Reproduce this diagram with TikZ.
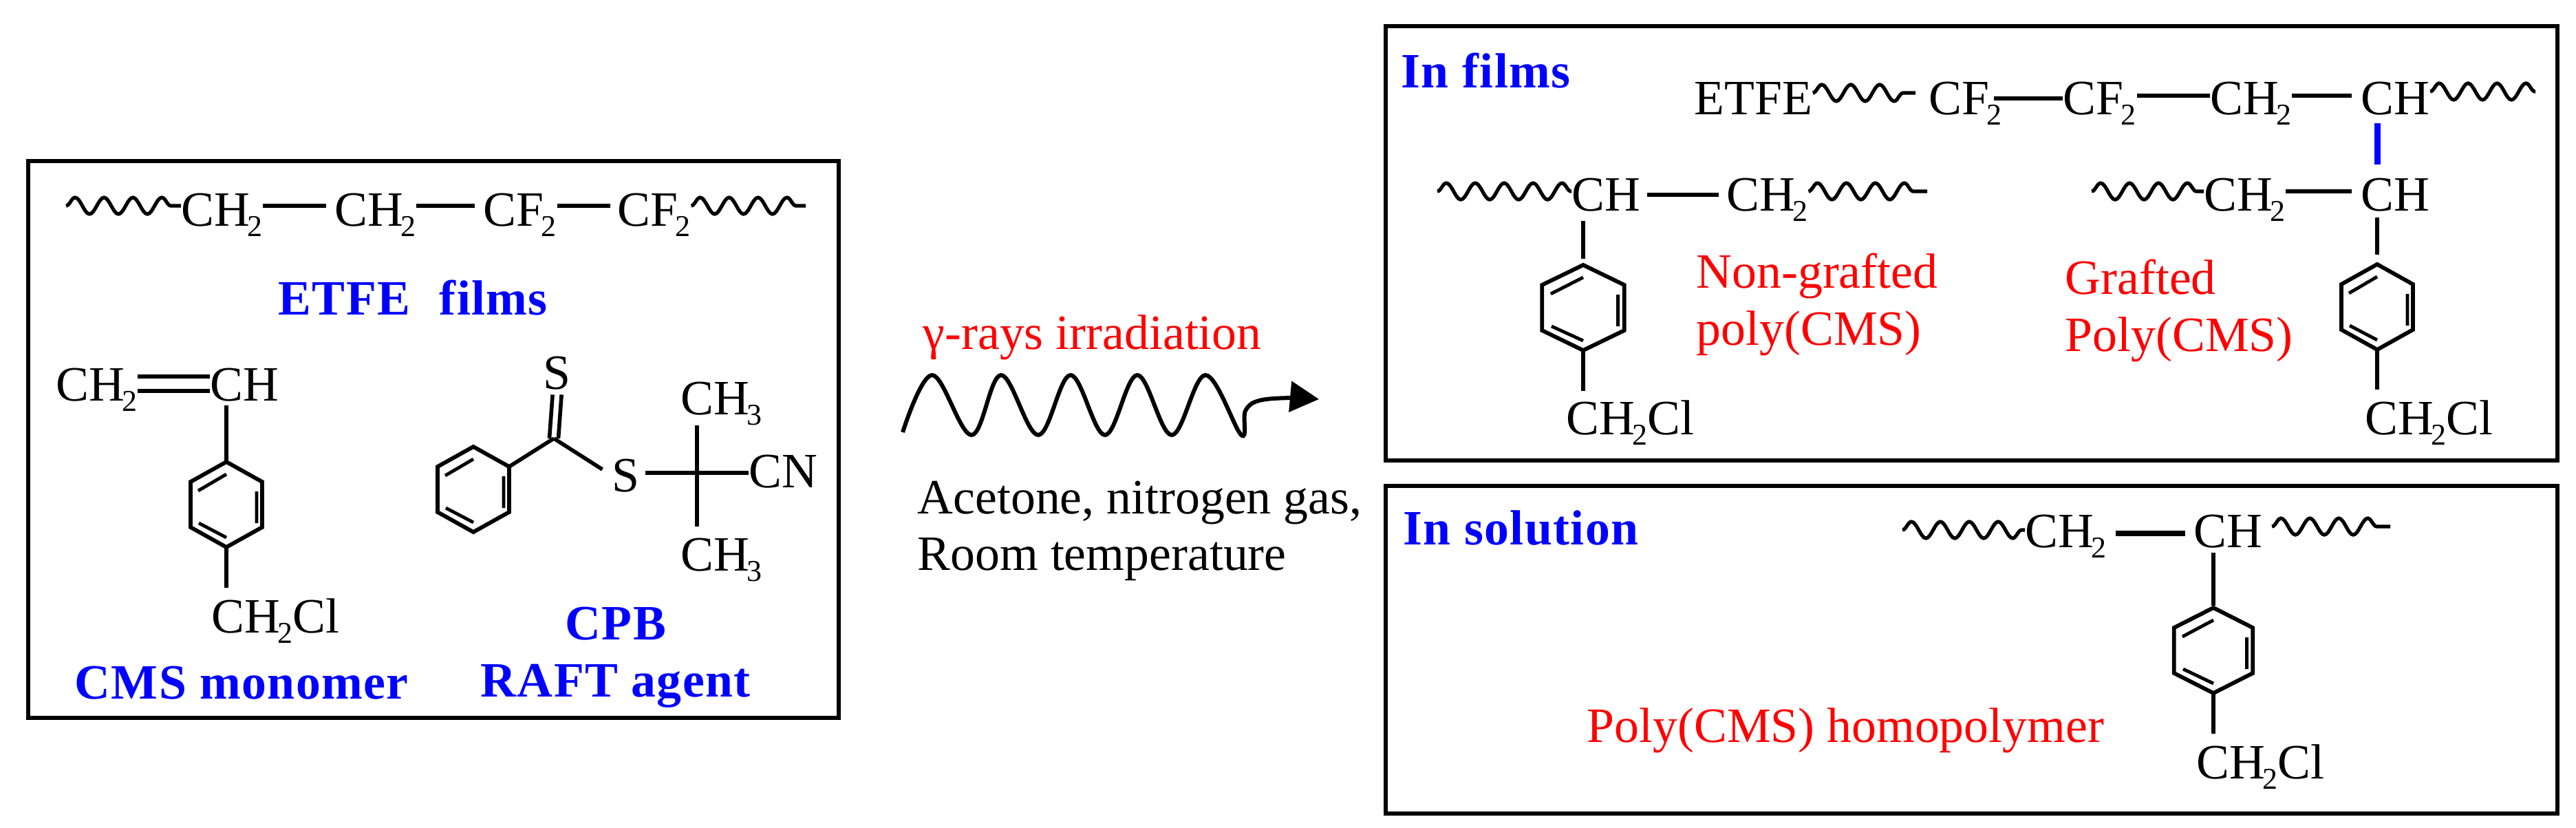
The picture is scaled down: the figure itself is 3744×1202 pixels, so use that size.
\documentclass[tikz,border=0pt]{standalone}
\usepackage{fontspec}
\setmainfont{Liberation Serif}
\newfontfamily\labelfont[LetterSpace=2]{Liberation Serif}
\usetikzlibrary{arrows.meta, decorations.pathmorphing}
\definecolor{labelblue}{RGB}{0, 0, 255}
\definecolor{labelred}{RGB}{255, 0, 0}
\newcommand{\subnum}[1]{\kern-0.05em\raisebox{-0.21em}{\fontsize{12.5}{13}\selectfont #1}}
\tikzset{
  chem/.style={anchor=base west, inner sep=0pt, font=\fontsize{20.4}{24}\selectfont},
  bluelabel/.style={anchor=base west, inner sep=0pt, text=labelblue, font=\fontsize{20.4}{24}\selectfont\labelfont\bfseries},
  redlabel/.style={chem, text=labelred},
  frame/.style={draw, line width=0.06cm},
  bond/.style={line width=0.056cm},
  wavy/.style={line width=0.052cm, decorate, decoration={snake, segment length=0.42cm, amplitude=0.12cm}},
  ring/.pic={
    \draw[line width=0.058cm, line join=miter] (0,-62) -- (52,-33) -- (52,33) -- (0,62) -- (-52,33) -- (-52,-33) -- cycle;
    \draw[line width=0.048cm] (-41,-20) -- (0,-44) (44,-19) -- (44,27) (-40,27) -- (0,48);
    \coordinate (-top) at (0,-62);
    \coordinate (-bot) at (0,62);
    \coordinate (-ur) at (52,-33);
  }
}

\begin{document}
\begin{tikzpicture}[x=0.01cm, y=-0.01cm]
  \useasboundingbox (0,0) rectangle (3744,1202);

  % Reactants
  \node[frame, minimum width=11.77cm, minimum height=8.09cm, anchor=north west] (boxreact) at (38,231) {};
  \coordinate (wavea) at (96,299);
  \coordinate (waveb) at (1171,299);
  \node[chem] (etfea) at (263,328) {CH\subnum{2}};
  \node[chem] (etfeb) at (486,328) {CH\subnum{2}};
  \node[chem] (etfec) at (702,328) {CF\subnum{2}};
  \node[chem] (etfed) at (897,328) {CF\subnum{2}};
  \draw[wavy] (wavea) -- ([yshift=0.29cm]etfea.base west);
  \draw[bond, shorten >=0.12cm] ([yshift=0.29cm]etfea.base east) -- ([yshift=0.29cm]etfeb.base west);
  \draw[bond, shorten >=0.12cm] ([yshift=0.29cm]etfeb.base east) -- ([yshift=0.29cm]etfec.base west);
  \draw[bond, shorten >=0.1cm] ([yshift=0.29cm]etfec.base east) -- ([yshift=0.29cm]etfed.base west);
  \draw[wavy] ([yshift=0.29cm]etfed.base east) -- (waveb);
  \node[bluelabel] (etfelabel) at (404,457) {ETFE\hspace{0.32em} films};

  % CMS monomer
  \node[chem] (vinyl) at (81,582) {CH\subnum{2}};
  \node[chem] (vinch) at (305,582) {CH};
  \pic (rcms) at (329,733) {ring};
  \node[chem] (cmscl) at (307,919) {CH\subnum{2}Cl};
  \draw[bond] ([yshift=0.35cm]vinyl.base east) -- ([yshift=0.35cm]vinch.base west);
  \draw[bond] ([yshift=0.14cm]vinyl.base east) -- ([yshift=0.14cm]vinch.base west);
  \draw[bond, shorten <=0.06cm] (rcms-top |- vinch.south) -- (rcms-top);
  \draw[bond, shorten >=0.15cm] (rcms-bot) -- (rcms-bot |- cmscl.north);
  \node[bluelabel] (cmslabel) at (108,1015) {CMS monomer};

  % CPB
  \pic (rcpb) at (688,711) {ring};
  \coordinate (cthio) at (805,637);
  \coordinate (cquat) at (1013,687);
  \node[chem] (sthio) at (789,565) {S};
  \node[chem] (slink) at (889,714) {S};
  \node[chem] (cpba) at (989,602) {CH\subnum{3}};
  \node[chem] (cpbb) at (989,829) {CH\subnum{3}};
  \node[chem] (cpbn) at (1088,708) {CN};
  \draw[bond] (rcpb-ur) -- (cthio);
  \draw[bond, shorten >=0.16cm] (cthio) -- (slink.north west |- slink.west);
  \draw[bond] ([xshift=-0.065cm]cthio) -- ([xshift=-0.065cm, yshift=-0.07cm]sthio.south);
  \draw[bond] ([xshift=0.065cm]cthio) -- ([xshift=0.065cm, yshift=-0.07cm]sthio.south);
  \draw[bond, shorten <=0.08cm] (slink.east |- cquat) -- (cpbn.west |- cquat);
  \draw[bond, shorten >=0.16cm] (cquat |- cpba.south) -- (cquat |- cpbb.north);
  \node[bluelabel] (cpblabel) at (821,929) {CPB};
  \node[bluelabel] (raftlabel) at (698,1012) {RAFT agent};

  % Conditions
  \node[redlabel] (gamma) at (1341,507) {γ-rays irradiation};
  \coordinate (raystart) at (1312,628);
  \coordinate (rayend) at (1917,580);
  \draw[line width=0.06cm, -{Triangle[length=0.42cm, width=0.44cm]}] plot[smooth, tension=0.6] coordinates {(raystart) (1355,545) (1412,632) (1455,545) (1509,632) (1556,545) (1606,632) (1653,545) (1703,632) (1752,545) (1804,632) (1810,597) (1830,582) (1877,578) (rayend)};
  \node[chem] (acetone) at (1333,746) {Acetone, nitrogen gas,};
  \node[chem] (roomtemp) at (1333,828) {Room temperature};

  % In films
  \node[frame, minimum width=17.02cm, minimum height=6.31cm, anchor=north west] (boxfilms) at (2011,35) {};
  \node[bluelabel] (filmslabel) at (2036,127) {In films};
  \node[chem] (graftetfe) at (2462,166) {ETFE};
  \node[chem] (grafta) at (2803,166) {CF\subnum{2}};
  \node[chem] (graftb) at (2998,166) {CF\subnum{2}};
  \node[chem] (graftc) at (3212,166) {CH\subnum{2}};
  \node[chem] (graftd) at (3431,166) {CH};
  \coordinate (wavec) at (3685,133);
  \draw[wavy, shorten >=0pt] ([yshift=0.31cm]graftetfe.base east) -- ([yshift=0.31cm, xshift=-0.19cm]grafta.base west);
  \draw[bond, shorten <=-0.13cm] ([yshift=0.23cm]grafta.base east) -- ([yshift=0.23cm]graftb.base west);
  \draw[bond] ([yshift=0.27cm]graftb.base east) -- ([yshift=0.27cm]graftc.base west);
  \draw[bond, shorten >=0.13cm] ([yshift=0.27cm]graftc.base east) -- ([yshift=0.27cm]graftd.base west);
  \draw[wavy] ([yshift=0.33cm]graftd.base east) -- (wavec);

  % Non-grafted chain
  \coordinate (waved) at (2089,278);
  \coordinate (wavee) at (2801,278);
  \node[chem] (freech) at (2284,306) {CH};
  \node[chem] (freecc) at (2509,306) {CH\subnum{2}};
  \pic[xscale=1.15] (rfree) at (2301,447) {ring};
  \node[chem] (freecl) at (2276,631) {CH\subnum{2}Cl};
  \draw[wavy] (waved) -- ([yshift=0.28cm]freech.base west);
  \draw[bond, shorten <=0.09cm, shorten >=0.11cm] ([yshift=0.23cm]freech.base east) -- ([yshift=0.23cm]freecc.base west);
  \draw[wavy] ([yshift=0.28cm]freecc.base east) -- (wavee);
  \draw[bond, shorten <=0.14cm, shorten >=0.09cm] (rfree-top |- freech.south) -- (rfree-top);
  \draw[bond, shorten >=0.13cm] (rfree-bot) -- (rfree-bot |- freecl.north);
  \node[redlabel] (nongraft) at (2465,418) {Non-grafted};
  \node[redlabel] (nongraftb) at (2465,501) {poly(CMS)};

  % Grafted chain
  \coordinate (wavef) at (3040,278);
  \node[chem] (sidecc) at (3203,306) {CH\subnum{2}};
  \node[chem] (sidech) at (3431,306) {CH};
  \pic (rside) at (3455,446) {ring};
  \node[chem] (sidecl) at (3437,631) {CH\subnum{2}Cl};
  \draw[wavy] (wavef) -- ([yshift=0.28cm]sidecc.base west);
  \draw[bond, shorten >=0.13cm] ([yshift=0.28cm]sidecc.base east) -- ([yshift=0.28cm]sidech.base west);
  \draw[bond, shorten <=0.09cm, shorten >=0.14cm] (rside-top |- sidech.south) -- (rside-top);
  \draw[bond, shorten >=0.15cm] (rside-bot) -- (rside-bot |- sidecl.north);
  \draw[labelblue, line width=0.09cm, shorten <=0.12cm, shorten >=0.19cm] (rside-top |- graftd.south) -- (rside-top |- sidech.north);
  \node[redlabel] (graftlabel) at (3001,427) {Grafted};
  \node[redlabel] (graftlabelb) at (3001,510) {Poly(CMS)};

  % In solution
  \node[frame, minimum width=17.02cm, minimum height=4.76cm, anchor=north west] (boxsol) at (2011,703) {};
  \node[bluelabel] (sollabel) at (2039,791) {In solution};
  \coordinate (waveg) at (2765,770);
  \coordinate (waveh) at (3474,765);
  \node[chem] (homocc) at (2943,795) {CH\subnum{2}};
  \node[chem] (homoch) at (3188,795) {CH};
  \pic[xscale=1.1] (rhomo) at (3217,945) {ring};
  \node[chem] (homocl) at (3192,1131) {CH\subnum{2}Cl};
  \draw[wavy] (waveg) -- ([yshift=0.25cm]homocc.base west);
  \draw[bond, line width=0.075cm, shorten <=0.13cm, shorten >=0.12cm] ([yshift=0.2cm]homocc.base east) -- ([yshift=0.2cm]homoch.base west);
  \draw[wavy] ([yshift=0.3cm, xshift=0.13cm]homoch.base east) -- (waveh);
  \draw[bond, shorten <=0.07cm, shorten >=0.03cm] (rhomo-top |- homoch.south) -- (rhomo-top);
  \draw[bond, shorten >=0.15cm] (rhomo-bot) -- (rhomo-bot |- homocl.north);
  \node[redlabel] (homolabel) at (2306,1078) {Poly(CMS) homopolymer};
\end{tikzpicture}
\end{document}
